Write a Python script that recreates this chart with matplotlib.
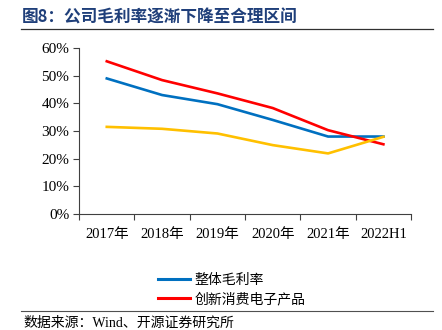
import matplotlib
matplotlib.use("Agg")
import matplotlib.pyplot as plt
from matplotlib.lines import Line2D
from matplotlib.ticker import FuncFormatter

plt.rcParams["font.family"] = ["Liberation Serif", "Noto Sans CJK SC"]

years = ["2017年", "2018年", "2019年", "2020年", "2021年", "2022H1"]
overall_margin = [49.0, 43.0, 39.7, 34.0, 28.0, 28.0]
consumer_elec = [55.2, 48.4, 43.6, 38.3, 30.3, 25.2]
other_margin = [31.5, 30.8, 29.1, 24.9, 21.9, 27.9]
legend_labels = ["整体毛利率", "创新消费电子产品"]

BLUE = "#0070C0"
RED = "#FF0000"
YELLOW = "#FFC000"

fig = plt.figure(figsize=(4.42, 3.30), dpi=100)
ax = fig.add_axes([0.179, 0.3515, 0.751, 0.503])

x = list(range(len(years)))
ax.plot(x, overall_margin, color=BLUE, lw=1.9)
ax.plot(x, consumer_elec, color=RED, lw=1.9)
ax.plot(x, other_margin, color=YELLOW, lw=1.9)

ax.set_xlim(-0.5, len(years) - 0.5)
ax.set_ylim(0, 60)
ax.set_yticks(range(0, 61, 10))
ax.yaxis.set_major_formatter(FuncFormatter(lambda v, _: f"{v:.0f}%"))
ax.set_xticks([i - 0.5 for i in range(len(years) + 1)])
ax.set_xticklabels([])
ax.set_xticks(x, minor=True)
ax.set_xticklabels(years, minor=True)
ax.tick_params(axis="x", which="major", direction="out", length=4, width=0.8, color="#404040")
ax.tick_params(axis="x", which="minor", length=0, pad=10, labelsize=10.5)
ax.tick_params(axis="y", direction="out", length=4, width=0.8, color="#404040", labelsize=11, pad=3)
for s in ["top", "right"]:
    ax.spines[s].set_visible(False)
for s in ["left", "bottom"]:
    ax.spines[s].set_color("#404040")
    ax.spines[s].set_linewidth(0.8)

handles = [Line2D([], [], color=BLUE, lw=2.2), Line2D([], [], color=RED, lw=2.2)]
fig.legend(handles, legend_labels, loc="center left", bbox_to_anchor=(0.33, 0.122),
           frameon=False, handlelength=2.3, handletextpad=0.3,
           labelspacing=0.35, prop={"family": ["Noto Sans CJK SC"], "size": 10})

# title and separators
fig.text(0.05, 0.948, "图8：公司毛利率逐渐下降至合理区间", fontsize=12, fontweight="bold",
         color="#1F3F7A", va="center", family=["Noto Sans CJK SC"])
fig.add_artist(Line2D([0.048, 0.98], [0.912, 0.912], color="#303030", lw=0.9))
fig.add_artist(Line2D([0.048, 0.98], [0.057, 0.057], color="#505050", lw=0.8))
fig.text(0.052, 0.022, "数据来源：Wind、开源证券研究所", fontsize=10, va="center",
         family=["Liberation Serif", "Noto Sans CJK SC"])

fig.savefig("out.png", dpi=100)
